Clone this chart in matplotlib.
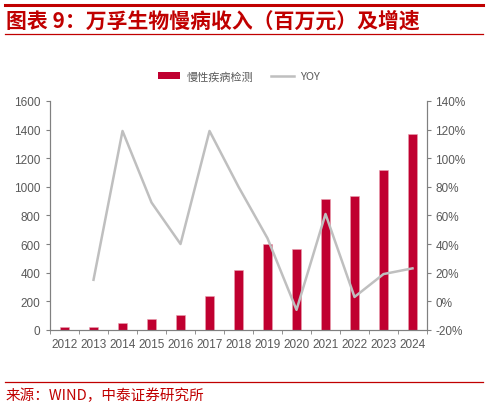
import matplotlib
matplotlib.use("Agg")
import matplotlib.pyplot as plt
from matplotlib.lines import Line2D
from matplotlib.patches import Patch
from matplotlib.ticker import FuncFormatter

plt.rcParams['font.family'] = ['Liberation Sans', 'Noto Sans CJK SC', 'DejaVu Sans']

# 数据
years = ['2012', '2013', '2014', '2015', '2016', '2017', '2018',
         '2019', '2020', '2021', '2022', '2023', '2024']
revenue = [18, 18, 47, 77, 103, 234, 418, 603, 568, 918, 938, 1117, 1368]
yoy = [None, 15, 119, 69, 40, 119, 80, 44, -6, 61, 3, 19, 23]

bar_color = '#C00030'
line_color = '#BFBFBF'
red = '#C00000'
grey = '#595959'

fig = plt.figure(figsize=(4.88, 4.06), dpi=100)
ax = fig.add_axes([0.1025, 0.185, 0.7725, 0.564])
ax2 = ax.twinx()

x = list(range(len(years)))
ax.bar(x, revenue, width=0.32, color=bar_color, edgecolor='#E8A0B0', linewidth=0.4, zorder=2)

yx = [i for i, v in zip(x, yoy) if v is not None]
yv = [v for v in yoy if v is not None]
ax2.plot(yx, yv, color=line_color, linewidth=1.8, zorder=3)

ax.set_xlim(-0.5, len(years) - 0.5)
ax.set_ylim(0, 1600)
ax.set_yticks(range(0, 1601, 200))
ax2.set_ylim(-20, 140)
ax2.set_yticks(range(-20, 141, 20))
ax2.yaxis.set_major_formatter(FuncFormatter(lambda v, p: f'{int(v)}%'))

ax.set_xticks(x)
ax.set_xticklabels(years)
ax.set_xticks([i - 0.5 for i in range(len(years) + 1)], minor=True)
ax.tick_params(axis='x', which='major', length=0, pad=6, labelsize=8.5, labelcolor=grey)
ax.tick_params(axis='x', which='minor', length=3, color='#808080', direction='out')
ax.tick_params(axis='y', length=3, color='#808080', labelsize=8.5, labelcolor=grey, pad=4)
ax2.tick_params(axis='y', length=3, color='#808080', labelsize=8.5, labelcolor=grey, pad=3)

for a in (ax, ax2):
    a.spines['top'].set_visible(False)
    for s in ('left', 'right', 'bottom'):
        a.spines[s].set_color('#808080')
        a.spines[s].set_linewidth(0.8)
ax.set_zorder(ax2.get_zorder() - 1)
ax2.patch.set_visible(False)

handles = [Patch(facecolor=bar_color, edgecolor='none'),
           Line2D([0], [0], color=line_color, linewidth=1.8)]
fig.legend(handles, ['慢性疾病检测', 'YOY'], loc='center', bbox_to_anchor=(0.49, 0.81),
           ncol=2, frameon=False, fontsize=8, labelcolor=grey,
           handlelength=2.0, handleheight=0.6, columnspacing=1.6, handletextpad=0.6,
           prop={'family': ['Noto Sans CJK SC', 'DejaVu Sans'], 'size': 8})

# 标题与来源
fig.add_artist(Line2D([0.01, 0.99], [1 - 6 / 406] * 2, color=red, linewidth=2.2))
fig.add_artist(Line2D([0.01, 0.99], [1 - 35 / 406] * 2, color=red, linewidth=0.9))
fig.text(0.012, 1 - 21 / 406, '图表 9：万孚生物慢病收入（百万元）及增速', color=red,
         fontsize=15, fontweight='bold', va='center', ha='left',
         family=['Noto Sans CJK SC', 'DejaVu Sans'])
fig.add_artist(Line2D([0.01, 0.99], [1 - 383 / 406] * 2, color=red, linewidth=0.9))
fig.text(0.012, 1 - 396 / 406, '来源：WIND，中泰证券研究所', color=red,
         fontsize=10.5, va='center', ha='left',
         family=['Noto Sans CJK SC', 'DejaVu Sans'])

fig.savefig('out.png', dpi=100)
